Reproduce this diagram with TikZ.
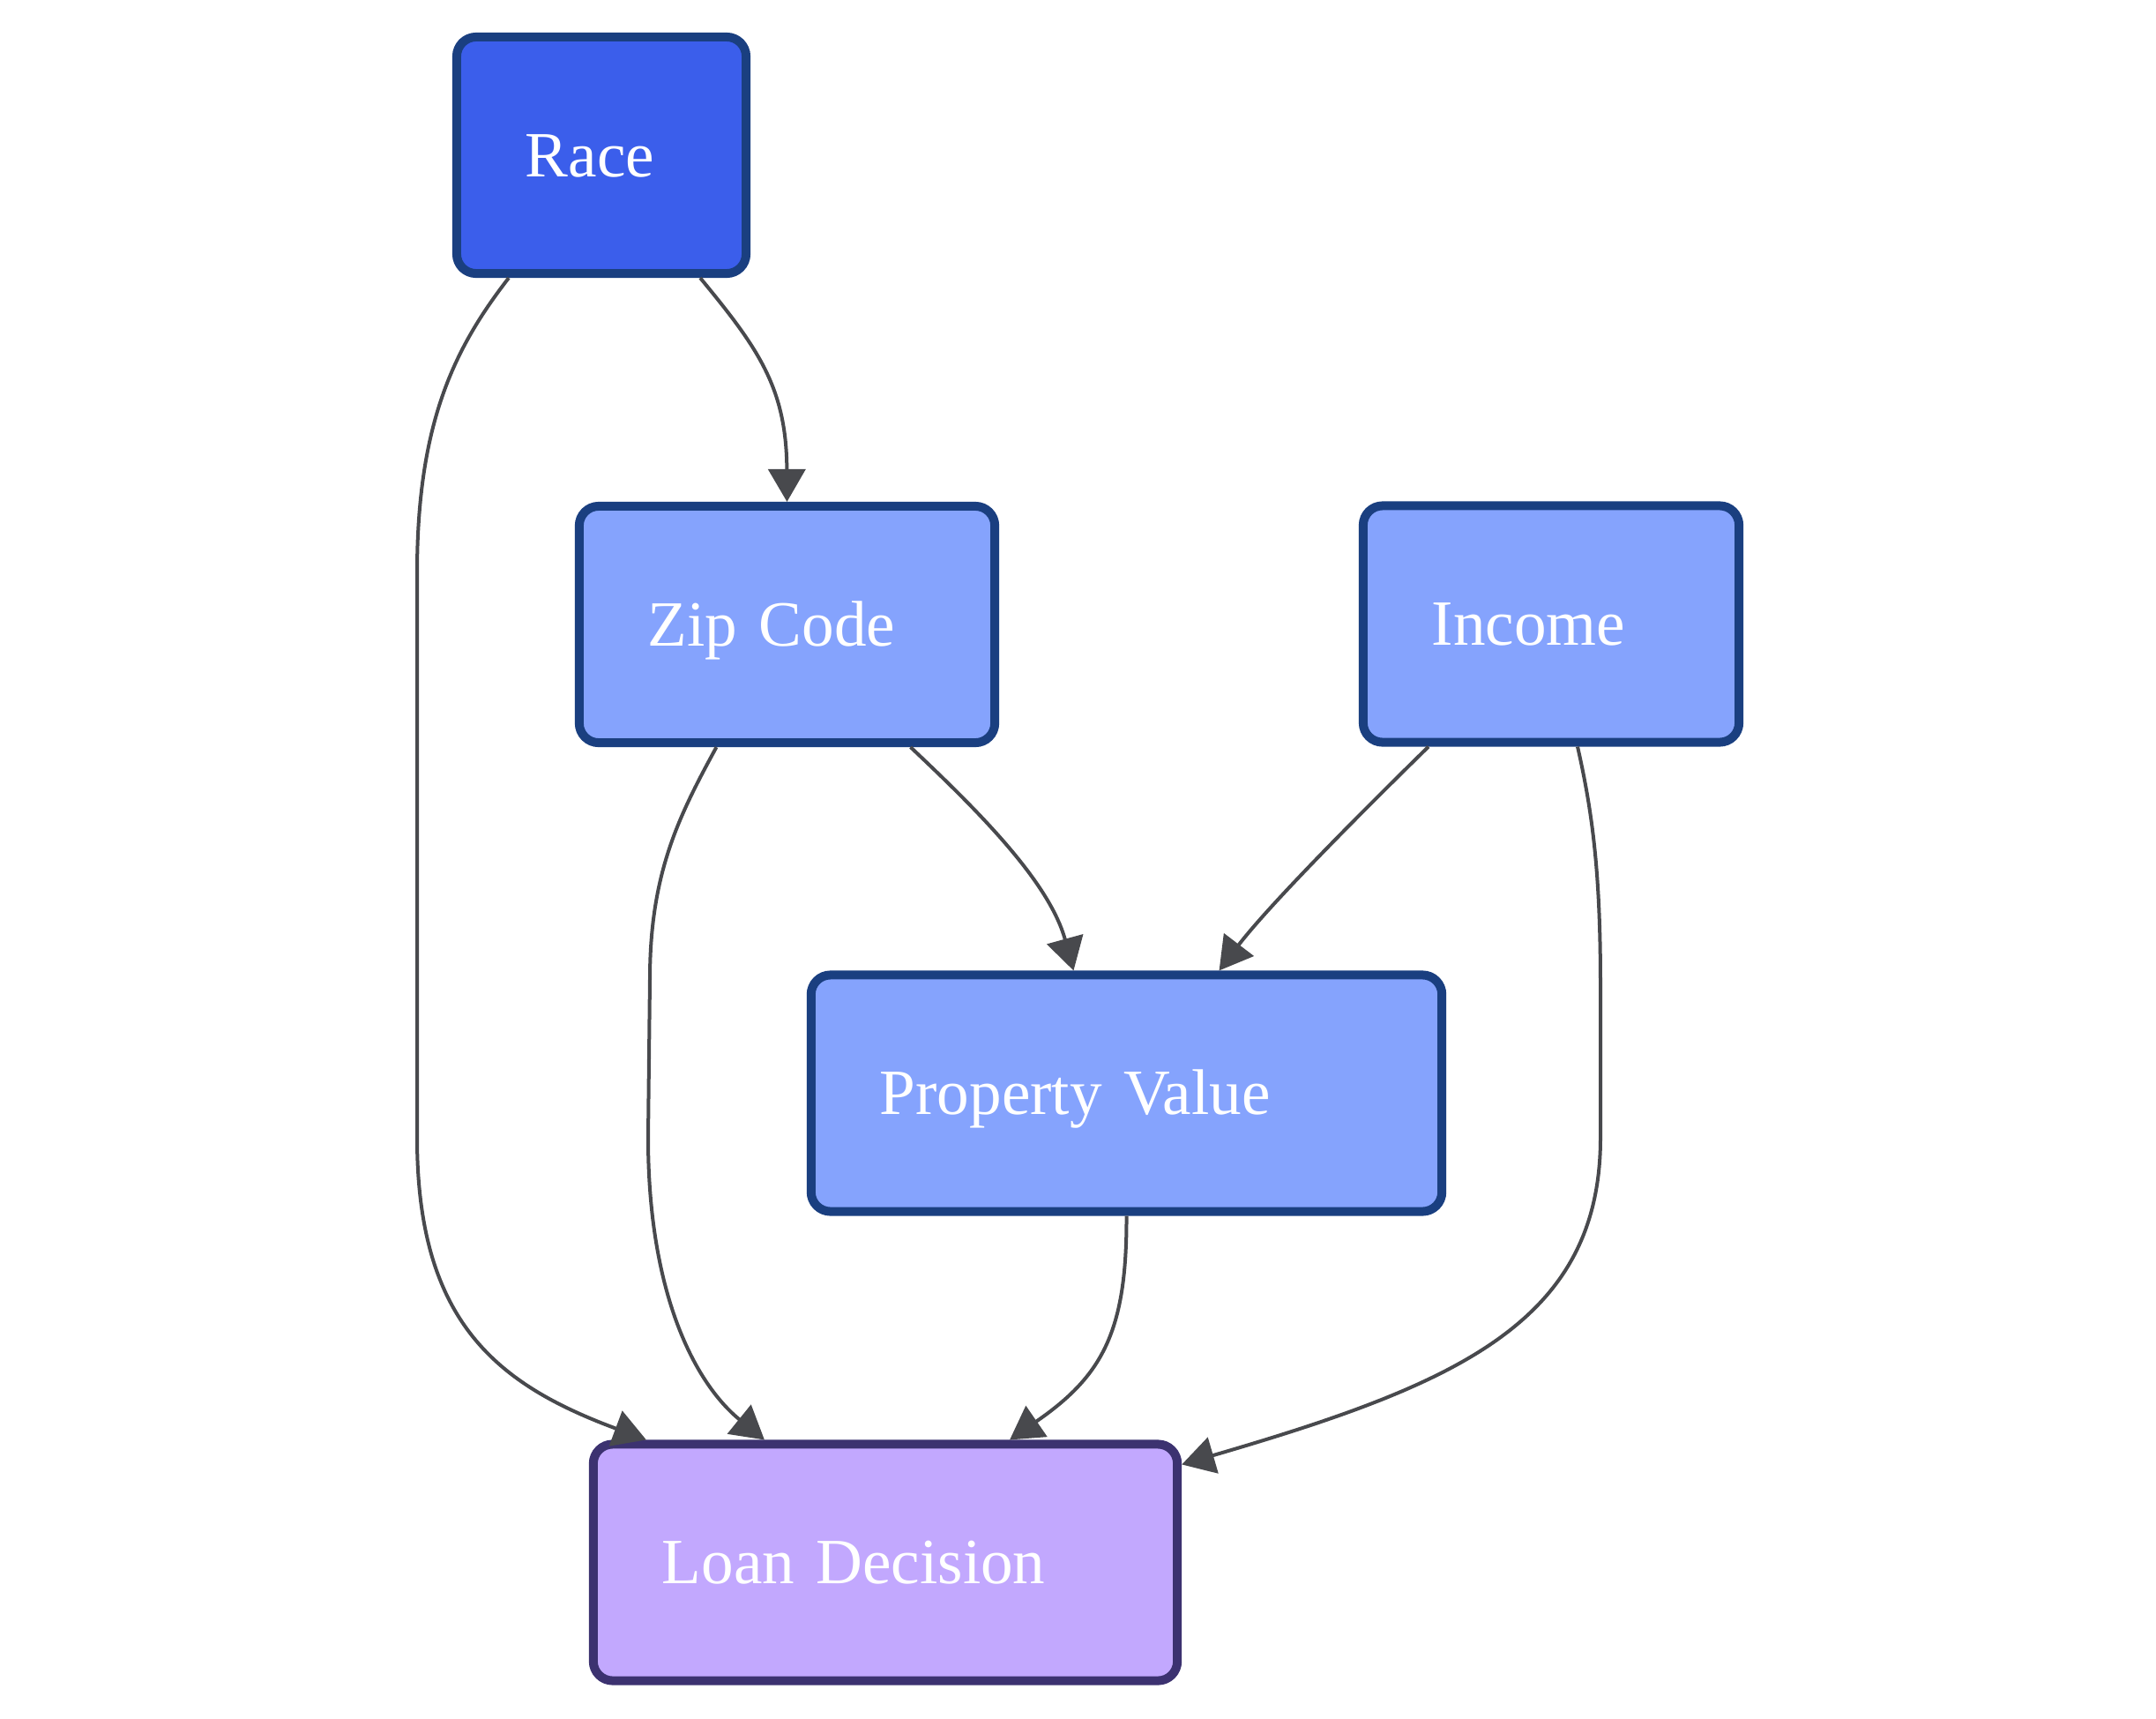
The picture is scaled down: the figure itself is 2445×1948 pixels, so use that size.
\documentclass[tikz,border=0pt]{standalone}
\usepackage{fontspec}
\setmainfont{Liberation Serif}
\usepackage{tikz}
\usetikzlibrary{arrows.meta}
\definecolor{raceFill}{HTML}{3B5EEB}
\definecolor{factorFill}{HTML}{85A3FD}
\definecolor{factorLine}{HTML}{1A3F80}
\definecolor{loanFill}{HTML}{C2A8FE}
\definecolor{loanLine}{HTML}{3C3270}
\definecolor{linkGray}{HTML}{48494D}
\newcommand{\boxFont}[0]{\fontsize{20.8pt}{25pt}\selectfont}

\begin{document}
\begin{tikzpicture}[x=0.01cm, y=-0.01cm]
  \tikzset{factor/.style={draw=factorLine, fill=factorFill, line width=0.1cm,
      rounded corners=0.22cm, text=white, font=\boxFont, align=left,
      inner xsep=0.78cm, inner ysep=0pt, minimum height=2.68cm,
      text height=0.48cm, text depth=0pt},
    outcome/.style={factor, draw=loanLine, fill=loanFill},
    link/.style={draw=linkGray, line width=0.04cm,
      -{Triangle[length=0.37cm, width=0.42cm]}}}
  \useasboundingbox (0,0) rectangle (2445,1948);

  \node[factor, fill=raceFill, text width=1.72cm] (race) at (682,176) {Race};
  \node[factor, text width=3.15cm] (zip) at (892.5,708) {Zip Code};
  \node[factor, text width=2.70cm] (income) at (1759,707.5) {Income};
  \node[factor, text width=5.59cm] (prop) at (1277.5,1239.5) {Property Value};
  \node[outcome, text width=5.06cm] (loan) at (1004,1771.5) {Loan Decision};

  \draw[link] ([xshift=-1.05cm]race.south) .. controls (515,395) and (473,480) .. (473,650)
    -- (473,1290) .. controls (473,1500) and (565,1570) .. ([xshift=-2.71cm]loan.north);
  \draw[link] ([xshift=1.12cm]race.south) .. controls (860,395) and (892,440) .. (zip.north);
  \draw[link] ([xshift=-0.8cm]zip.south) .. controls (770,925) and (737,990) .. (737,1110)
    -- (735,1290) .. controls (735,1470) and (790,1570) .. ([xshift=-1.37cm]loan.north);
  \draw[link] ([xshift=1.4cm]zip.south) .. controls (1110,920) and (1190,1000) .. ([xshift=-0.6cm]prop.north);
  \draw[link] ([xshift=-1.39cm]income.south) .. controls (1550,915) and (1440,1025) .. ([xshift=1.05cm]prop.north);
  \draw[link] ([xshift=0.3cm]income.south) .. controls (1808,930) and (1815,1000) .. (1815,1120)
    -- (1815,1290) .. controls (1815,1500) and (1650,1570) .. ([yshift=-0.28cm]loan.north east);
  \draw[link] (prop.south) .. controls (1278,1510) and (1250,1560) .. ([xshift=1.41cm]loan.north);
\end{tikzpicture}
\end{document}
